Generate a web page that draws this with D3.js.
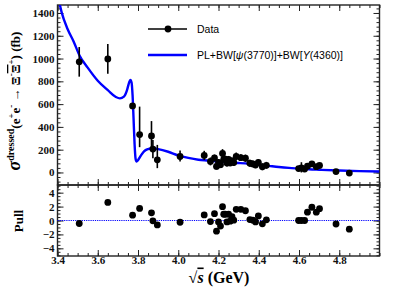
<!DOCTYPE html>
<html><head><meta charset="utf-8">
<script src="https://cdn.jsdelivr.net/npm/d3@7"></script>
<style>body{margin:0;background:#fff}</style>
</head><body>
<svg id="c" width="399" height="288" xmlns="http://www.w3.org/2000/svg"></svg>
<script>
// ---- data ----
const energy = [3.508,3.650,3.773,3.808,3.867,3.874,3.896,4.009,
  4.129,4.160,4.180,4.190,4.200,4.210,4.220,4.226,4.234,4.242,4.250,4.258,4.267,4.276,4.288,4.311,4.334,4.356,4.371,4.384,4.398,4.418,4.438,
  4.598,4.612,4.628,4.642,4.664,4.686,4.702,4.784,4.850];
const sigma = [971,997,584,333,321,205,111,140,
  150,97,127,53,88,68,167,117,117,83,115,84,102,87,140,130,125,81,75,66,88,50,63,
  34,40,30,55,75,51,61,8,-5];
const errLo = [130,130,25,111,120,80,73,44,
  40,35,30,28,30,30,38,30,30,30,30,30,30,30,35,30,32,30,30,30,30,30,30,
  20,40,20,22,25,22,22,18,14];
const errHi = [130,130,25,245,130,80,131,52,
  40,35,30,28,30,30,38,30,30,30,30,30,30,30,35,30,32,30,30,30,30,30,30,
  20,50,20,22,25,22,22,18,14];
const pull = [-0.43,2.6,0.76,1.73,1.1,-0.05,-0.63,-0.25,
  0.8,-0.15,0.98,-1.53,-0.2,-0.8,1.99,0.9,0.9,-0.2,0.9,-0.1,0.55,0.05,1.6,1.6,1.4,0.14,0.04,-0.2,0.66,-0.48,0.1,
  0.0,0.0,0.0,1.2,1.9,1.2,1.7,-0.5,-1.25];
// fit curve PL+BW[psi(3770)]+BW[Y(4360)]
const fitE = [3.40,3.42,3.45,3.48,3.51,3.55,3.60,3.65,3.69,3.71,3.73,3.745,3.755,3.762,3.768,3.773,3.778,3.783,3.788,3.793,3.80,3.815,3.83,3.85,3.87,3.90,3.95,4.00,4.05,4.10,4.15,4.20,4.25,4.30,4.35,4.40,4.45,4.50,4.55,4.60,4.65,4.70,4.80,4.90,5.00];
const fitSigma = [1570,1410,1260,1150,1025,920,805,722,662,650,665,720,785,812,790,680,470,250,120,96,108,150,185,205,212,205,182,150,128,112,104,95,88,83,77,68,58,48,40,34,28,24,17,12,9];
const xTicks = [3.4,3.6,3.8,4.0,4.2,4.4,4.6,4.8];
const yTicks = [0,200,400,600,800,1000,1200,1400];
const pullTicks = [-4,-2,0,2,4];

// ---- layout ----
const svg = d3.select("#c");
const L = 57.5, R = 379.5, T1 = 5, B1 = 185, T2 = 185, B2 = 256;
const x = d3.scaleLinear().domain([3.4,5.0]).range([L,R]);
const y = d3.scaleLinear().domain([-110,1470]).range([B1,T1]);
const yp = d3.scaleLinear().domain([-5.1,5.1]).range([B2,T2]);
const xMinor = d3.range(3.4,5.0001,0.05).map(v=>+v.toFixed(2));
const yMinor = d3.range(-80,1470,40);
const pMinor = d3.range(-5,5.01,0.5);
const serif = "'Liberation Serif','Times New Roman',serif";
const sans = "'Liberation Sans',Arial,sans-serif";
const tc = "#222";

function axis(gen, tr, vals, size, fmt, pad){
  const g = svg.append("g").attr("transform", tr)
    .call(gen.tickValues(vals).tickSize(size).tickPadding(pad===undefined?3:pad).tickFormat(fmt||""));
  g.select(".domain").remove();
  g.selectAll("line").attr("stroke", tc).attr("stroke-width",1);
  g.selectAll("text").attr("font-family", serif).attr("font-weight","bold").attr("font-size",11).attr("fill","#111");
  return g;
}
// top panel axes
axis(d3.axisLeft(y), `translate(${L},0)`, yMinor, -3);
axis(d3.axisLeft(y), `translate(${L},0)`, yTicks, -6, d3.format("d"));
axis(d3.axisRight(y), `translate(${R},0)`, yMinor, -3);
axis(d3.axisRight(y), `translate(${R},0)`, yTicks, -6);
axis(d3.axisTop(x), `translate(0,${T1})`, xMinor, -3);
axis(d3.axisTop(x), `translate(0,${T1})`, xTicks, -6);
axis(d3.axisBottom(x), `translate(0,${B1})`, xMinor, -3);
axis(d3.axisBottom(x), `translate(0,${B1})`, xTicks, -6);
// pull panel axes
axis(d3.axisLeft(yp), `translate(${L},0)`, pMinor, -3);
axis(d3.axisLeft(yp), `translate(${L},0)`, pullTicks, -6, d3.format("d"));
axis(d3.axisRight(yp), `translate(${R},0)`, pMinor, -3);
axis(d3.axisRight(yp), `translate(${R},0)`, pullTicks, -6);
axis(d3.axisTop(x), `translate(0,${T2})`, xMinor, -3);
axis(d3.axisTop(x), `translate(0,${T2})`, xTicks, -6);
axis(d3.axisBottom(x), `translate(0,${B2})`, xMinor, -3);
axis(d3.axisBottom(x), `translate(0,${B2})`, xTicks, -6, d3.format(".1f"), 1)
  .selectAll("text").attr("dy","0.62em");

// frames
svg.append("rect").attr("x",L).attr("y",T1).attr("width",R-L).attr("height",B1-T1)
  .attr("fill","none").attr("stroke","#222").attr("stroke-width",1.4);
svg.append("rect").attr("x",L).attr("y",T2).attr("width",R-L).attr("height",B2-T2)
  .attr("fill","none").attr("stroke","#222").attr("stroke-width",1.4);

// clip for top panel
svg.append("clipPath").attr("id","clipTop").append("rect")
  .attr("x",L).attr("y",T1).attr("width",R-L).attr("height",B1-T1);

const data = energy.map((e,i)=>({e, s:sigma[i], lo:errLo[i], hi:errHi[i], p:pull[i]}));

// fit curve
const fit = fitE.map((e,i)=>({e, s:fitSigma[i]}));
svg.append("path").datum(fit).attr("clip-path","url(#clipTop)")
  .attr("d", d3.line().x(d=>x(d.e)).y(d=>y(d.s)).curve(d3.curveMonotoneX))
  .attr("fill","none").attr("stroke","#0000ff").attr("stroke-width",2.4);

// data error bars and markers
const gd = svg.append("g");
gd.selectAll("line").data(data).join("line")
  .attr("x1",d=>x(d.e)).attr("x2",d=>x(d.e))
  .attr("y1",d=>y(d.s-d.lo)).attr("y2",d=>y(d.s+d.hi))
  .attr("stroke","#000").attr("stroke-width",1.6);
gd.selectAll("circle").data(data).join("circle")
  .attr("cx",d=>x(d.e)).attr("cy",d=>y(d.s)).attr("r",3.4).attr("fill","#000");

// pull zero line
svg.append("line").attr("x1",L).attr("x2",R).attr("y1",yp(0)).attr("y2",yp(0))
  .attr("stroke","#0000ff").attr("stroke-width",1.2).attr("stroke-dasharray","1.2,1");
svg.append("g").selectAll("circle").data(data).join("circle")
  .attr("cx",d=>x(d.e)).attr("cy",d=>yp(d.p)).attr("r",3.4).attr("fill","#000");

// legend
const lg = svg.append("g");
lg.append("line").attr("x1",148).attr("x2",187).attr("y1",29).attr("y2",29).attr("stroke","#000").attr("stroke-width",1.6);
lg.append("circle").attr("cx",168).attr("cy",29).attr("r",3.4).attr("fill","#000");
lg.append("text").attr("x",197).attr("y",32.8).attr("font-family",sans).attr("font-size",10.5).text("Data");
lg.append("line").attr("x1",148).attr("x2",187).attr("y1",55).attr("y2",55).attr("stroke","#0000ff").attr("stroke-width",2.4);
const lt = lg.append("text").attr("x",197).attr("y",58.8).attr("font-family",sans).attr("font-size",10.5);
lt.append("tspan").text("PL+BW[");
lt.append("tspan").attr("font-style","italic").text("ψ");
lt.append("tspan").text("(3770)]+BW[");
lt.append("tspan").attr("font-style","italic").text("Y");
lt.append("tspan").text("(4360)]");

// x title
const xt = svg.append("text").attr("x",219).attr("y",282.5).attr("text-anchor","middle")
  .attr("font-family",serif).attr("font-weight","bold").attr("font-size",16);
xt.append("tspan").text("√");
xt.append("tspan").attr("font-style","italic").attr("text-decoration","overline").text("s");
xt.append("tspan").text(" (GeV)");

// y title top
const yt = svg.append("text").attr("transform","translate(20,101) rotate(-90)").attr("text-anchor","middle")
  .attr("font-family",serif).attr("font-weight","bold").attr("font-size",13);
yt.append("tspan").attr("font-style","italic").attr("font-size",18).text("σ");
yt.append("tspan").attr("font-size",10).attr("dy",-6).text("dressed");
yt.append("tspan").attr("dy",6).text("(e");
yt.append("tspan").attr("font-size",9).attr("dy",-6).text("+");
yt.append("tspan").attr("dy",6).text("e");
yt.append("tspan").attr("font-size",9).attr("dy",-6).text("-");
yt.append("tspan").attr("dy",6).text(" → Ξ");
yt.append("tspan").attr("font-size",9).attr("dy",-6).text("-");
yt.append("tspan").attr("dy",6).attr("text-decoration","overline").text("Ξ");
yt.append("tspan").attr("font-size",9).attr("dy",-6).text("+");
yt.append("tspan").attr("dy",6).text(") (fb)");

// y title pull
svg.append("text").attr("transform","translate(23,221) rotate(-90)").attr("text-anchor","middle")
  .attr("font-family",serif).attr("font-weight","bold").attr("font-size",13).text("Pull");
</script>
</body></html>
